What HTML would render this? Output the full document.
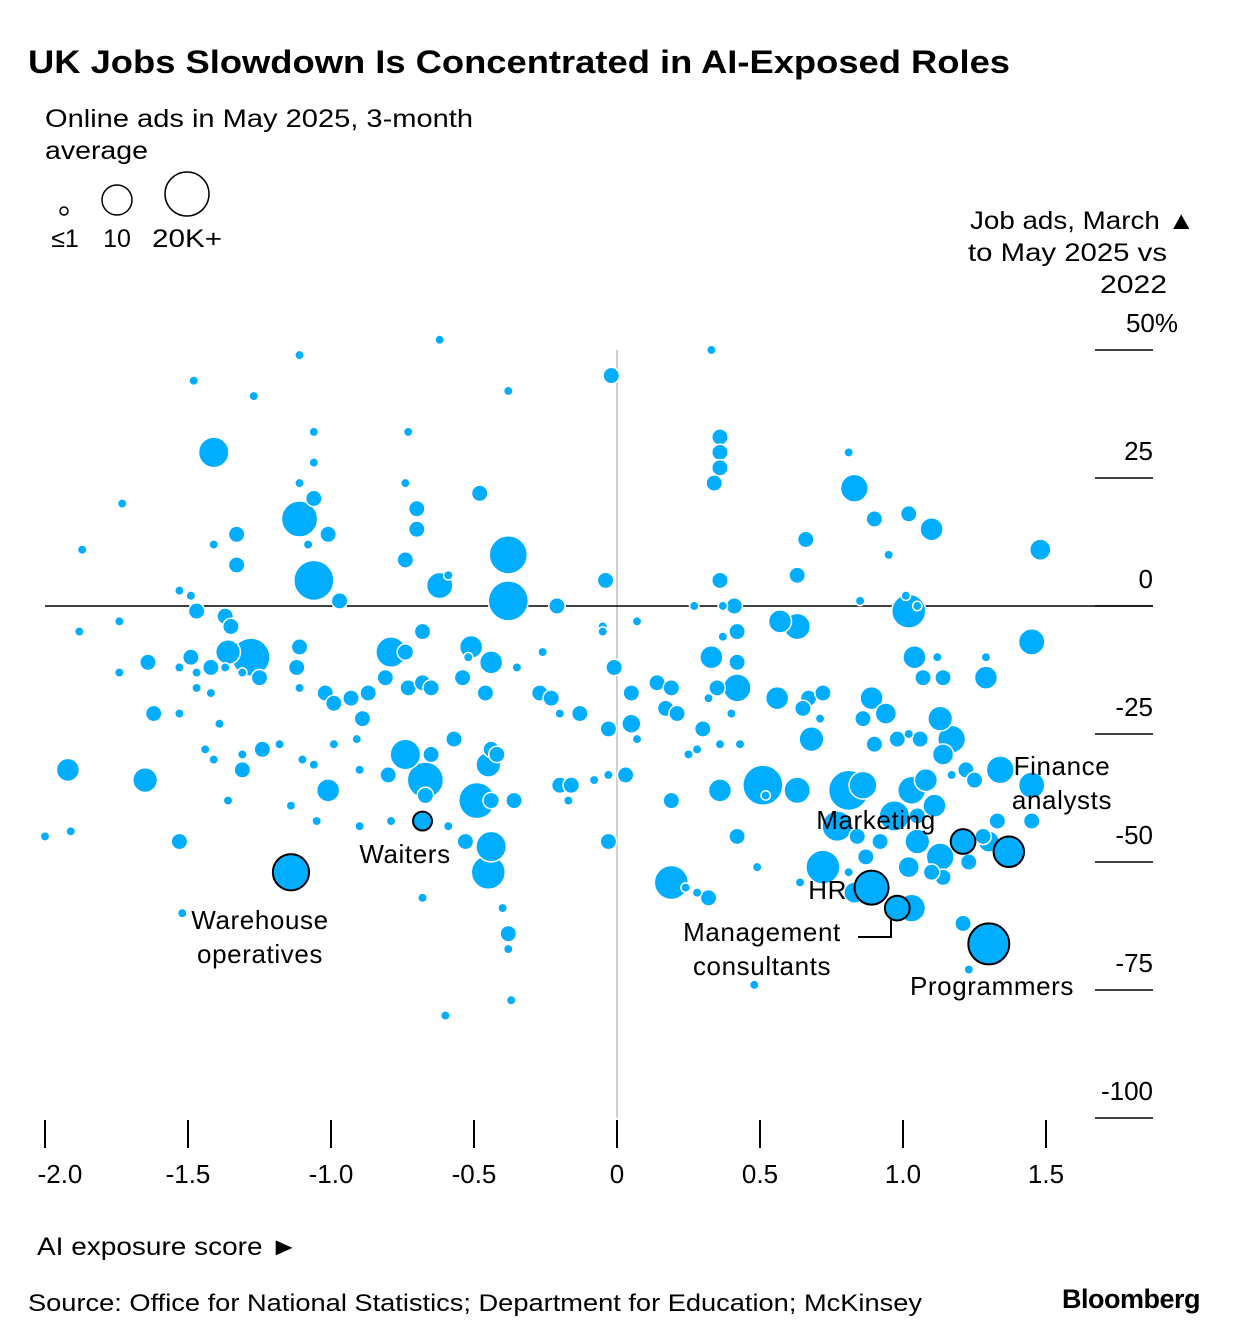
<!DOCTYPE html>
<html><head><meta charset="utf-8">
<style>
body{margin:0;background:#fff;}
svg{display:block;font-family:"Liberation Sans",sans-serif;}
</style></head>
<body>
<svg id="chart" width="1240" height="1344" viewBox="0 0 1240 1344" xmlns="http://www.w3.org/2000/svg">
<text x="28" y="73" font-size="32" font-weight="bold" fill="#000" textLength="982" lengthAdjust="spacingAndGlyphs">UK Jobs Slowdown Is Concentrated in AI-Exposed Roles</text>
<text x="45" y="127" font-size="25" fill="#000" textLength="428" lengthAdjust="spacingAndGlyphs">Online ads in May 2025, 3-month</text>
<text x="45" y="159" font-size="25" fill="#000" textLength="103" lengthAdjust="spacingAndGlyphs">average</text>
<g>
<circle cx="64" cy="211" r="4" fill="none" stroke="#000" stroke-width="1.5"/>
<circle cx="117" cy="200" r="15" fill="none" stroke="#000" stroke-width="1.5"/>
<circle cx="187" cy="194" r="22" fill="none" stroke="#000" stroke-width="1.5"/>
<text x="65" y="247" font-size="25" text-anchor="middle">≤1</text>
<text x="117" y="247" font-size="25" text-anchor="middle">10</text>
<text x="187" y="247" font-size="25" text-anchor="middle" textLength="70" lengthAdjust="spacingAndGlyphs">20K+</text>
</g>
<g font-size="25">
<text x="970" y="229" textLength="225" lengthAdjust="spacingAndGlyphs">Job ads, March ▲</text>
<text x="968" y="261" textLength="199" lengthAdjust="spacingAndGlyphs">to May 2025 vs</text>
<text x="1100" y="293" textLength="67" lengthAdjust="spacingAndGlyphs">2022</text>
</g>
<g id="axes"></g>
<g id="points"></g>
<g id="highlights"></g>
<g id="labels" font-size="26" fill="#000" letter-spacing="0.6"></g>
<text x="37" y="1255" font-size="25" textLength="261" lengthAdjust="spacingAndGlyphs">AI exposure score ►</text>
<text x="28" y="1311" font-size="24" textLength="894" lengthAdjust="spacingAndGlyphs">Source: Office for National Statistics; Department for Education; McKinsey</text>
<text x="1200" y="1308" font-size="27" font-weight="bold" text-anchor="end" letter-spacing="-0.5">Bloomberg</text>
</svg>
<script>
const xTicks=[-2.0,-1.5,-1.0,-0.5,0,0.5,1.0,1.5];
const xTickLabels=["-2.0","-1.5","-1.0","-0.5","0","0.5","1.0","1.5"];
const yTicks=[50,25,0,-25,-50,-75,-100];
const yTickLabels=["50%","25","0","-25","-50","-75","-100"];
const pts=[
[-1.11,49,.3],[-0.62,52,.3],[-1.48,44,.3],[-1.27,41,.3],[-0.38,42,.3],[-0.02,45,2],[0.33,50,.3],
[-1.41,30,10],[-1.06,34,.3],[-0.73,34,.3],[-1.06,28,.3],[-1.73,20,.3],[-1.11,24,.3],[-1.06,21,2],
[-1.11,17,15],[-0.70,19,2],[-0.70,15,2],[-0.74,24,.3],[-0.48,22,2],[-1.33,14,2],[-1.41,12,.3],
[-1.87,11,.3],[-1.33,8,2],[-1.01,14,2],[-1.08,12,.3],[-0.74,9,2],[-0.38,10,17],[-1.06,5,19],
[-0.62,4,7],[-0.59,6,.3],[-0.97,1,2],[-0.38,1,19],[-0.21,0,2],[-0.04,5,2],[-1.53,3,.3],[-1.49,2,.3],
[-1.47,-1,2],[-1.37,-2,2],[-1.35,-4,2],[-1.74,-3,.3],[-1.88,-5,.3],[-1.36,-9,6],[-1.28,-10,17],
[-1.11,-8,2],[-0.79,-9,10],[-0.74,-9,2],[-0.68,-5,2],[-0.51,-8,5],[-0.44,-11,5],[-0.52,-10,.3],
[-0.26,-9,.3],[-1.64,-11,2],[-1.53,-12,.3],[-1.49,-10,2],[-1.47,-13,.3],[-1.42,-12,2],[-1.37,-12,.3],
[-1.31,-13,.3],[-1.25,-14,2],[-1.74,-13,.3],[-1.62,-21,2],[-1.53,-21,.3],[-1.47,-16,.3],[-1.42,-17,.3],
[-1.12,-12,2],[-1.11,-16,.3],[-1.02,-17,2],[-0.99,-19,2],[-0.93,-18,2],[-0.87,-17,2],[-0.81,-14,2],
[-0.73,-16,2],[-0.68,-15,2],[-0.65,-16,2],[-0.54,-14,2],[-0.46,-17,2],[-0.35,-12,.3],[-0.27,-17,2],
[-0.23,-18,2],[-0.20,-21,.3],[-0.13,-21,2],[-0.89,-22,2],[-0.99,-27,.3],[-1.10,-30,.3],[-1.06,-31,.3],
[-1.18,-27,.3],[-1.24,-28,2],[-1.31,-29,.3],[-1.31,-32,2],[-1.39,-23,.3],[-1.44,-28,.3],[-1.41,-30,.3],
[-1.92,-32,5],[-1.65,-34,6],[-1.36,-38,.3],[-1.14,-39,.3],[-1.01,-36,5],[-0.74,-29,10],[-0.67,-34,15],
[-0.67,-37,2],[-0.80,-33,2],[-0.91,-26,.3],[-0.90,-32,.3],[-0.65,-29,2],[-0.57,-26,2],[-0.44,-28,2],
[-0.45,-31,6],[-0.42,-29,2],[-0.49,-38,15],[-0.44,-38,2],[-0.36,-38,2],[-0.20,-35,2],[-0.16,-35,2],
[-0.17,-38,.3],[-0.03,-33,.3],[0.03,-33,2],[-0.08,-34,.3],[0.07,-26,.3],[-0.03,-24,2],[0.05,-23,3],
[0.05,-17,2],[-0.01,-12,2],[-0.05,-4,.3],[0.07,-3,.3],[0.14,-15,2],[0.19,-16,2],[0.17,-20,2],[0.21,-21,2],
[0.32,-18,.3],[0.35,-16,2],[0.37,-6,.3],[0.33,-10,5],[0.42,-5,2],[0.42,-11,2],[0.41,0,2],[0.42,-16,8],
[0.40,-21,.3],[0.43,-27,.3],[0.36,-27,.3],[0.30,-24,2],[0.28,-28,.3],[0.25,-29,.3],[0.36,-36,5],
[0.19,-38,2],[0.42,-45,2],[0.49,-51,.3],[0.48,-74,.3],[0.24,-55,.3],[0.28,-56,.3],[0.32,-57,2],
[0.19,-54,13],[0.37,0,.3],[0.36,5,2],[0.27,0,.3],[0.63,6,2],[0.66,13,2],[0.57,-3,5],[0.63,-4,7],
[0.56,-18,5],[0.67,-18,2],[0.72,-17,2],[0.65,-20,2],[0.68,-26,6],[0.51,-35,19],[0.63,-36,7],[0.52,-37,.3],
[0.71,-22,.3],[0.72,-51,13],[0.64,-54,.3],[0.83,23,8],[0.90,17,2],[0.95,10,.3],[0.81,30,.3],[0.85,1,.3],
[1.02,18,2],[1.10,15,5],[1.02,-1,13],[1.01,2,.3],[1.05,0,.3],[1.04,-10,5],[1.12,-10,.3],[1.07,-14,2],
[1.14,-14,2],[1.29,-14,5],[1.29,-10,.3],[0.89,-18,5],[0.86,-22,2],[0.94,-21,4],[0.98,-26,2],[1.02,-25,.3],
[1.06,-26,2],[1.13,-22,6],[1.17,-26,8],[1.14,-29,4],[0.90,-27,2],[0.81,-36,19],[0.86,-35,8],[0.77,-43,10],
[0.84,-45,2],[0.97,-41,10],[1.03,-36,8],[1.08,-34,5],[1.11,-39,5],[1.05,-41,2],[1.17,-33,.3],[1.22,-32,2],
[1.25,-34,2],[1.34,-32,8],[1.45,-35,7],[1.45,-7,7],[1.48,11,4],[1.45,-42,2],[1.13,-49,8],[1.05,-46,6],
[1.02,-51,4],[1.14,-53,2],[1.10,-52,2],[1.23,-50,2],[1.28,-45,2],[1.30,-46,4],[1.33,-42,2],[1.21,-62,2],
[0.83,-56,4],[1.03,-59,8],[1.23,-71,.3],[0.92,-46,2],[0.87,-49,2],[0.81,-52,.3],[-0.03,-46,2],
[-1.53,-46,2],[-1.91,-44,.3],[-2.0,-45,.3],[-1.52,-60,.3],[-0.68,-57,.3],[-0.60,-80,.3],[-0.37,-77,.3],
[-0.38,-64,2],[-0.38,-67,.3],[-0.40,-59,.3],[-0.45,-52,13],[-0.44,-47,10],[-0.53,-46,2],[-0.59,-43,.3],
[-0.79,-42,.3],[-0.90,-43,.3],[-1.05,-42,.3],[0.36,33,2],[0.36,30,2],[0.36,27,2],[0.34,24,2],[-0.05,-5,.3]
];
const hiNames=["Warehouse operatives","Waiters","HR","Management consultants","Marketing","Finance analysts","Programmers"];
const hiX=[-1.14,-0.68,0.89,0.98,1.21,1.37,1.30];
const hiY=[-52,-42,-55,-59,-46,-48,-66];
const hiS=[15,3,13,6,6,10,20];

const NS="http://www.w3.org/2000/svg";
const xS=v=>617+286*v;
const yS=v=>606-5.12*v;
const rS=s=>2.5+18*Math.sqrt(Math.min(s,20)/20);
const FILL="#00adff";
function mk(tag,attrs,parent){const e=document.createElementNS(NS,tag);for(const k in attrs)e.setAttribute(k,attrs[k]);parent.appendChild(e);return e;}
const axes=document.getElementById('axes');
let l=mk('line',{x1:617,x2:617,y1:yS(50),y2:yS(-100),stroke:"#d0d0d0","stroke-width":2},axes);


yTicks.forEach((t,i)=>{
  const y=yS(t);
  const ln=mk('line',{x1:1095,x2:1153,y1:y,y2:y,stroke:"#000","stroke-width":1.5},axes);
  
  
  const tx=mk('text',{x:t===50?1178:1153,y:y-18,"font-size":26,"text-anchor":"end"},axes);
  tx.textContent=yTickLabels[i];
  
  
});
let z=mk('line',{x1:45,x2:1153,y1:yS(0),y2:yS(0),stroke:"#000","stroke-width":1.5},axes);


xTicks.forEach((t,i)=>{
  const x=xS(t);
  const ln=mk('line',{x1:x,x2:x,y1:1120,y2:1148,stroke:"#000","stroke-width":2},axes);
  
  
  const tx=mk('text',{x:x+(i===0?15:0),y:1183,"font-size":26,"text-anchor":"middle"},axes);
  tx.textContent=xTickLabels[i];
  
  
});
const pg=document.getElementById('points');
pts.slice().sort((a,b)=>b[2]-a[2]).forEach(p=>{
  const c=mk('circle',{cx:xS(p[0]),cy:yS(p[1]),r:rS(p[2]),fill:FILL,stroke:"#fff","stroke-width":1.5},pg);
  
  
});
const hg=document.getElementById('highlights');
hiNames.forEach((n,i)=>{
  const c=mk('circle',{cx:xS(hiX[i]),cy:yS(hiY[i]),r:rS(hiS[i]),fill:FILL,stroke:"#000","stroke-width":2},hg);
  
  
});
const lg=document.getElementById('labels');
const labs=[
 [["Warehouse","operatives"],260,929,"middle"],
 [["Waiters"],405,863,"middle"],
 [["HR"],847,899,"end"],
 [["Management","consultants"],762,941,"middle"],
 [["Marketing"],876,829,"middle"],
 [["Finance","analysts"],1062,775,"middle"],
 [["Programmers"],992,995,"middle"]
];
labs.forEach(L=>{
  L[0].forEach((s,j)=>{
    const t=mk('text',{x:L[1],y:L[2]+j*34,"text-anchor":L[3]},lg);
    t.textContent=s;
    
    
  });
});
const conn=mk('polyline',{points:"858,937 891,937 891,918",fill:"none",stroke:"#000","stroke-width":2},lg);


</script>
</body></html>
